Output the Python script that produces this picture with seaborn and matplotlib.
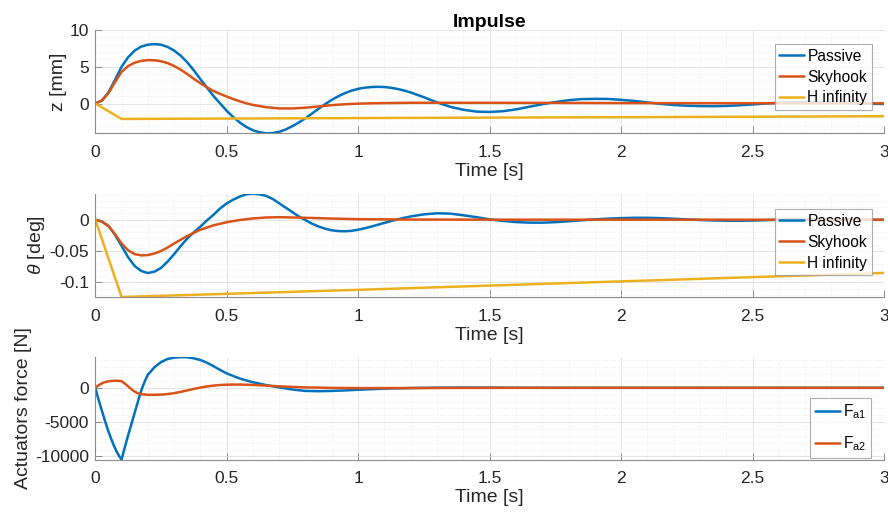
import numpy as np
import pandas as pd
import matplotlib
matplotlib.use('Agg')
import matplotlib.pyplot as plt
import seaborn as sns
from matplotlib.ticker import MultipleLocator, FuncFormatter

# ---------------- data ----------------
# time grid for the passive curves: 0.025 s up to 1.2 s, then 0.05 s
t_passive = [round(0.025 * i, 3) for i in range(49)] + [round(1.25 + 0.05 * i, 2) for i in range(36)]
z_passive = [0, 0.4, 1.5, 3.2, 5.0, 6.3, 7.2, 7.75, 8.0, 8.08,
             8.0, 7.7, 7.2, 6.5, 5.6, 4.5, 3.3, 2.15, 1.0, 0.0,
             -1.0, -1.85, -2.6, -3.2, -3.65, -3.92, -4.05, -4.02, -3.85, -3.52,
             -3.08, -2.56, -2.0, -1.35, -0.7, -0.07, 0.5, 1.0, 1.42, 1.75,
             2.0, 2.15, 2.24, 2.27, 2.24, 2.14, 1.98, 1.76, 1.5,
             0.85, 0.15, -0.45, -0.85, -1.1, -1.15, -1.05, -0.8, -0.45, -0.1,
             0.2, 0.45, 0.6, 0.63, 0.62, 0.5, 0.35, 0.15, -0.05, -0.2,
             -0.3, -0.35, -0.37, -0.33, -0.25, -0.13, 0.0, 0.1, 0.17, 0.2,
             0.2, 0.17, 0.1, 0.03, -0.03, -0.07]

t_sky = [0, 0.025, 0.05, 0.075, 0.1, 0.125, 0.15, 0.175, 0.2, 0.225, 0.25, 0.275,
         0.3, 0.325, 0.35, 0.375, 0.4, 0.425, 0.45, 0.475, 0.5, 0.525, 0.55, 0.575,
         0.6, 0.65, 0.7, 0.75, 0.8, 0.85, 0.9, 0.95, 1.0, 1.05, 1.1, 1.2, 1.3, 1.4,
         1.6, 1.8, 2.0, 2.5, 3.0]
z_sky = [0, 0.4, 1.4, 2.9, 4.3, 5.1, 5.55, 5.8, 5.9, 5.88, 5.75, 5.5,
         5.1, 4.6, 4.0, 3.35, 2.75, 2.2, 1.7, 1.3, 0.95, 0.6, 0.3, 0.02,
         -0.2, -0.5, -0.67, -0.67, -0.57, -0.4, -0.22, -0.1, -0.02, 0.03, 0.06, 0.1,
         0.1, 0.1, 0.09, 0.08, 0.06, 0.04, 0.03]

t_hinf = [0, 0.1, 1.0, 2.0, 3.0]
z_hinf = [0, -2.1, -1.98, -1.86, -1.73]

th_passive = [0, -0.003, -0.010, -0.024, -0.042, -0.060, -0.074, -0.082, -0.0852, -0.083,
              -0.077, -0.067, -0.055, -0.042, -0.030, -0.020, -0.011, -0.001, 0.008, 0.018,
              0.026, 0.032, 0.037, 0.0405, 0.0415, 0.0405, 0.038, 0.033, 0.026, 0.019,
              0.012, 0.005, -0.001, -0.0065, -0.011, -0.0145, -0.017, -0.0182, -0.0185, -0.0178,
              -0.016, -0.0137, -0.0110, -0.0081, -0.0051, -0.0022, 0.0005, 0.003, 0.0052,
              0.0085, 0.0102, 0.0097, 0.007, 0.004, 0.0005, -0.002, -0.0038, -0.0047, -0.0048,
              -0.004, -0.0025, -0.001, 0.0005, 0.0017, 0.0025, 0.003, 0.003, 0.0025, 0.0015,
              0.0005, -0.0005, -0.0012, -0.0016, -0.0017, -0.0014, -0.0008, -0.0002, 0.0004, 0.0008,
              0.0009, 0.0008, 0.0005, 0.0001, -0.0002, -0.0004]

t_th_sky = [0, 0.025, 0.05, 0.075, 0.1, 0.125, 0.15, 0.175, 0.2, 0.225, 0.25, 0.275,
            0.3, 0.325, 0.35, 0.375, 0.4, 0.45, 0.5, 0.55, 0.6, 0.65, 0.7, 0.8, 0.9,
            1.0, 1.2, 1.5, 2.0, 3.0]
th_sky = [0, -0.003, -0.010, -0.023, -0.038, -0.049, -0.055, -0.057, -0.0565, -0.054,
          -0.050, -0.0445, -0.038, -0.032, -0.026, -0.021, -0.016, -0.009, -0.004, -0.0005,
          0.002, 0.0035, 0.004, 0.003, 0.0018, 0.0008, 0.0002, 0.0, 0.0, 0.0]

th_hinf = [0, -0.1235, -0.112, -0.0985, -0.085]

t_fa1 = [0, 0.01, 0.02, 0.03, 0.04, 0.05, 0.06, 0.07, 0.08, 0.09, 0.1, 0.11, 0.12,
         0.13, 0.14, 0.15, 0.16, 0.17, 0.18, 0.19, 0.2, 0.225, 0.25, 0.275, 0.3,
         0.325, 0.35, 0.375, 0.4, 0.425, 0.45, 0.475, 0.5, 0.55, 0.6, 0.65, 0.7,
         0.75, 0.8, 0.85, 0.9, 0.95, 1.0, 1.1, 1.2, 1.3, 1.4, 1.5, 1.6, 1.8, 2.0,
         2.5, 3.0]
fa1 = [0, -1400, -2700, -3950, -5200, -6350, -7400, -8350, -9200, -9900, -10450, -9000, -7600,
       -6250, -4950, -3600, -2300, -1000, 150, 1100, 1900, 3000, 3750, 4200, 4400,
       4470, 4450, 4300, 4050, 3650, 3150, 2600, 2100, 1350, 800, 400, 50,
       -250, -450, -490, -450, -380, -280, -120, -30, 20, 40, 30, 10, 0, 0,
       0, 0]

t_fa2 = [0, 0.01, 0.02, 0.03, 0.04, 0.05, 0.06, 0.07, 0.08, 0.09, 0.1, 0.11, 0.12,
         0.13, 0.14, 0.15, 0.16, 0.17, 0.18, 0.2, 0.22, 0.25, 0.275, 0.3, 0.325,
         0.35, 0.375, 0.4, 0.425, 0.45, 0.475, 0.5, 0.525, 0.55, 0.6, 0.65, 0.7,
         0.75, 0.8, 0.9, 1.0, 1.2, 1.4, 1.6, 2.0, 3.0]
fa2 = [0, 300, 550, 730, 860, 950, 1000, 1025, 1030, 1010, 970, 680, 370,
       40, -280, -560, -760, -880, -950, -1010, -1020, -990, -910, -780, -590,
       -380, -160, 40, 200, 320, 410, 460, 480, 475, 420, 320, 220,
       130, 60, -10, -40, -40, -10, 0, 0, 0]

series_labels = ['Passive', 'Skyhook', 'H infinity']
force_labels = [r'F$_{\mathrm{a1}}$', r'F$_{\mathrm{a2}}$']
x_ticks = [0, 0.5, 1, 1.5, 2, 2.5, 3]

# ---------------- style ----------------
sns.set_theme(style='white')
plt.rcParams.update({
    'font.family': ['Liberation Sans', 'DejaVu Sans'],
    'axes.unicode_minus': False,
    'mathtext.fontset': 'custom',
    'mathtext.rm': 'Liberation Sans',
    'mathtext.it': 'Liberation Sans:italic',
    'mathtext.bf': 'Liberation Sans:bold',
})

BLUE, ORANGE, YELLOW = '#0072BD', '#D95319', '#EDB120'
TXT = '#262626'
LW = 1.8

fig = plt.figure(figsize=(8.88, 5.19), dpi=100)
ax1 = fig.add_axes([0.1073, 0.7432, 0.8882, 0.1990])
ax2 = fig.add_axes([0.1073, 0.4277, 0.8882, 0.1985])
ax3 = fig.add_axes([0.1073, 0.1146, 0.8882, 0.1970])

fmt = FuncFormatter(lambda v, p: '%g' % (round(v, 6) + 0.0))


def style(ax, ylim, ymaj, ymin, ylabel):
    ax.set_xlim(0, 3)
    ax.set_ylim(*ylim)
    ax.set_xticks(x_ticks)
    ax.xaxis.set_minor_locator(MultipleLocator(0.1))
    ax.yaxis.set_major_locator(MultipleLocator(ymaj))
    ax.yaxis.set_minor_locator(MultipleLocator(ymin))
    ax.xaxis.set_major_formatter(fmt)
    ax.yaxis.set_major_formatter(fmt)
    ax.grid(which='major', color='#dfdfdf', lw=0.6)
    ax.grid(which='minor', color='#ececec', lw=0.5, ls=(0, (2, 2)))
    ax.set_axisbelow(True)
    for s in ['top', 'right']:
        ax.spines[s].set_visible(False)
    for s in ['left', 'bottom']:
        ax.spines[s].set_color('#8c8c8c')
        ax.spines[s].set_linewidth(0.8)
    ax.tick_params(which='major', direction='in', length=5, width=0.7,
                   color='#8c8c8c', labelsize=12.5, labelcolor=TXT,
                   bottom=True, left=True, top=False, right=False)
    ax.tick_params(axis='x', which='major', pad=8.5)
    ax.tick_params(axis='y', which='major', pad=4.5)
    ax.tick_params(which='minor', length=0)
    ax.set_xlabel('Time [s]', fontsize=14, color=TXT, labelpad=2)
    ax.set_ylabel(ylabel, fontsize=14, color=TXT, labelpad=2)


def legend(ax, loc, anchor, spacing):
    leg = ax.legend(loc=loc, bbox_to_anchor=anchor, borderaxespad=0,
                    frameon=True, fancybox=False, edgecolor='#9a9a9a', fontsize=11.2,
                    handlelength=1.6, handletextpad=0.2, labelspacing=spacing,
                    borderpad=0.3)
    leg.get_frame().set_linewidth(0.8)
    for t in leg.get_texts():
        t.set_color('black')
    return leg


# ---------- panel 1 ----------
sns.lineplot(x=t_passive, y=z_passive, ax=ax1, color=BLUE, lw=LW, label=series_labels[0])
sns.lineplot(x=t_sky, y=z_sky, ax=ax1, color=ORANGE, lw=LW, label=series_labels[1])
sns.lineplot(x=t_hinf, y=z_hinf, ax=ax1, color=YELLOW, lw=LW, label=series_labels[2])
style(ax1, (-4.05, 10), 5, 1, 'z [mm]')
ax1.set_title('Impulse', fontsize=14, fontweight='bold', color='black', pad=2)
legend(ax1, 'upper right', (0.9848, 0.8645), 0.38)

# ---------- panel 2 ----------
sns.lineplot(x=t_passive, y=th_passive, ax=ax2, color=BLUE, lw=LW, label=series_labels[0])
sns.lineplot(x=t_th_sky, y=th_sky, ax=ax2, color=ORANGE, lw=LW, label=series_labels[1])
sns.lineplot(x=t_hinf, y=th_hinf, ax=ax2, color=YELLOW, lw=LW, label=series_labels[2])
style(ax2, (-0.1235, 0.041), 0.05, 0.01, r'$\theta$ [deg]')
legend(ax2, 'upper right', (0.9848, 0.854), 0.38)

# ---------- panel 3 ----------
sns.lineplot(x=t_fa1, y=fa1, ax=ax3, color=BLUE, lw=LW, label=force_labels[0])
sns.lineplot(x=t_fa2, y=fa2, ax=ax3, color=ORANGE, lw=LW, label=force_labels[1])
style(ax3, (-10450, 4450), 5000, 1000, 'Actuators force [N]')
legend(ax3, 'lower right', (0.983, 0.015), 0.85)

fig.savefig('out.png', dpi=100)
